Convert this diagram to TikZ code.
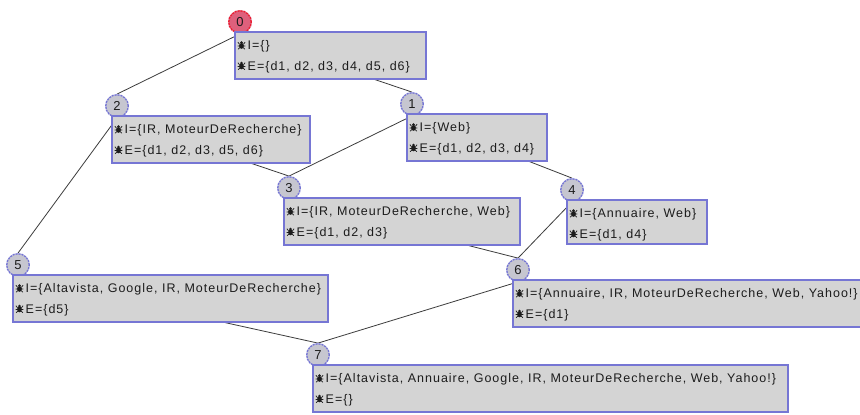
\documentclass[tikz,border=0pt]{standalone}
\usepackage{fontspec}
\setmainfont{Liberation Sans}[LetterSpace=8]
\usetikzlibrary{calc}
\pgfdeclarelayer{bg}
\pgfsetlayers{bg,main}
\definecolor{boxfill}{RGB}{212,212,212}
\definecolor{boxline}{RGB}{118,118,212}
\definecolor{circfill}{RGB}{198,198,208}
\definecolor{redfill}{RGB}{222,96,124}
\definecolor{redline}{RGB}{235,30,50}
\definecolor{txt}{RGB}{28,28,28}
\definecolor{edgecol}{RGB}{60,60,60}
\begin{document}
\begin{tikzpicture}[x=1pt,y=-1pt,
  conbox/.style={draw=boxline,line width=1.6pt,fill=boxfill,anchor=north west,minimum height=47pt,inner sep=0pt,outer sep=0pt},
  numcirc/.style={circle,draw=boxline,line width=1.3pt,dash pattern=on 2pt off 1pt,preaction={draw=boxline!45,line width=1.3pt,solid},fill=circfill,minimum size=22.5pt,inner sep=0pt,font=\fontsize{13}{13}\selectfont,text=txt},
  rootcirc/.style={numcirc,draw=redline,preaction={draw=redline!50,line width=1.3pt,solid},fill=redfill},
  txtline/.style={anchor=base west,inner sep=0pt,font=\fontsize{12.5}{12.5}\selectfont,text=txt},
  link/.style={draw=edgecol,line width=0.8pt},
  bug/.pic={
    \fill[txt] (0,0.9) ellipse [x radius=2.4pt, y radius=2.9pt];
    \fill[txt] (0,-2.4) circle [radius=1.5pt];
    \draw[txt,line width=0.7pt] (-2,-0.8)--(-3.6,-2.8) (2,-0.8)--(3.6,-2.8) (-2,1)--(-3.8,1) (2,1)--(3.8,1) (-1.8,2.6)--(-3.4,4.2) (1.8,2.6)--(3.4,4.2);
  }
]
\begin{pgfonlayer}{bg}
\fill[white] (0,0) rectangle (860,415);
\end{pgfonlayer}
\useasboundingbox (0,0) rectangle (860,415);

% circles
\node[rootcirc] (c0) at (240,22) {0};
\node[numcirc] (c2) at (117,106) {2};
\node[numcirc] (c1) at (412,104) {1};
\node[numcirc] (c3) at (289,188) {3};
\node[numcirc] (c4) at (572,190) {4};
\node[numcirc] (c5) at (18,265) {5};
\node[numcirc] (c6) at (518,270) {6};
\node[numcirc] (c7) at (318,355) {7};

% boxes
\node[conbox,minimum width=191pt] (b0) at (235,32) {};
\node[conbox,minimum width=198pt] (b2) at (112,116) {};
\node[conbox,minimum width=140pt] (b1) at (407,114) {};
\node[conbox,minimum width=236pt] (b3) at (284,198) {};
\node[conbox,minimum width=140pt,minimum height=44pt] (b4) at (567,200) {};
\node[conbox,minimum width=315pt] (b5) at (13,275) {};
\node[conbox,minimum width=362pt] (b6) at (513,280) {};
\node[conbox,minimum width=475pt] (b7) at (313,365) {};

% texts and icons
\foreach \b/\i/\e in {b0/{I=\{\}}/{E=\{d1, d2, d3, d4, d5, d6\}},
  b2/{I=\{IR, MoteurDeRecherche\}}/{E=\{d1, d2, d3, d5, d6\}},
  b1/{I=\{Web\}}/{E=\{d1, d2, d3, d4\}},
  b3/{I=\{IR, MoteurDeRecherche, Web\}}/{E=\{d1, d2, d3\}},
  b4/{I=\{Annuaire, Web\}}/{E=\{d1, d4\}},
  b5/{I=\{Altavista, Google, IR, MoteurDeRecherche\}}/{E=\{d5\}},
  b6/{I=\{Annuaire, IR, MoteurDeRecherche, Web, Yahoo!\}}/{E=\{d1\}},
  b7/{I=\{Altavista, Annuaire, Google, IR, MoteurDeRecherche, Web, Yahoo!\}}/{E=\{\}}}{
  \pic at ($(\b.north west)+(6.5,13)$) {bug};
  \pic at ($(\b.north west)+(6.5,33.5)$) {bug};
  \node[txtline] (\b i) at ($(\b.north west)+(12.5,17.5)$) {\i};
  \node[txtline] (\b e) at ($(\b.north west)+(12.5,38)$) {\e};
}

% edges
\begin{pgfonlayer}{bg}
\draw[link] (c0.south) -- (c2.north);
\draw[link] (c0.south) -- (c1.north);
\draw[link] (c2.south) -- (c3.north);
\draw[link] (c1.south) -- (c3.north);
\draw[link] (c1.south) -- (c4.north);
\draw[link] (c2.south) -- (c5.north);
\draw[link] (c3.south) -- (c6.north);
\draw[link] (c4.south) -- (c6.north);
\draw[link] (c5.south) -- (c7.north);
\draw[link] (c6.south) -- (c7.north);
\end{pgfonlayer}
\end{tikzpicture}
\end{document}
